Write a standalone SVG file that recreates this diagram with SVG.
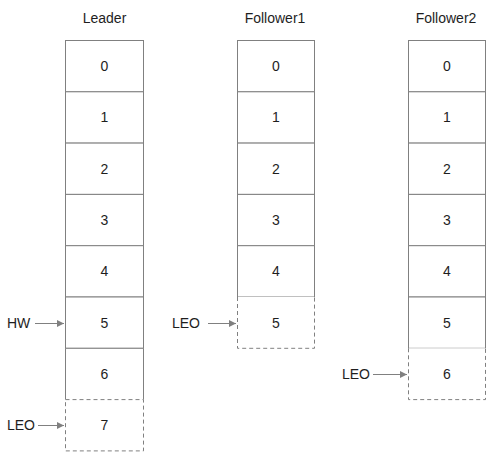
<svg xmlns="http://www.w3.org/2000/svg" width="486" height="452" viewBox="0 0 486 452">
<style>
text{font-family:"Liberation Sans",Arial,sans-serif;font-size:14px;fill:#1e1e1e}
.t{text-anchor:middle}
.c{fill:#fff;stroke:#808080;stroke-width:1}
.d{fill:#fff;stroke:#808080;stroke-width:1;stroke-dasharray:4 3}
.a{stroke:#808080;stroke-width:1;fill:none;marker-end:url(#ah)}
</style>
<defs>
<marker id="ah" viewBox="0 0 10 10" refX="10" refY="5" markerWidth="8" markerHeight="7" markerUnits="userSpaceOnUse" orient="auto">
<path d="M0,0 L10,5 L0,10 z" fill="#808080"/>
</marker>
</defs>
<g id="titles">
<text class="t" x="104.5" y="23">Leader</text>
<text class="t" x="275" y="23">Follower1</text>
<text class="t" x="446" y="23">Follower2</text>
</g>
<g id="leader">
<g id="L0"><rect class="c" x="65.5" y="40.5" width="78" height="51.3"/><text class="t" x="104.5" y="71">0</text></g>
<g id="L1"><rect class="c" x="65.5" y="91.8" width="78" height="51.3"/><text class="t" x="104.5" y="122.3">1</text></g>
<g id="L2"><rect class="c" x="65.5" y="143.1" width="78" height="51.3"/><text class="t" x="104.5" y="173.6">2</text></g>
<g id="L3"><rect class="c" x="65.5" y="194.4" width="78" height="51.3"/><text class="t" x="104.5" y="224.9">3</text></g>
<g id="L4"><rect class="c" x="65.5" y="245.7" width="78" height="51.3"/><text class="t" x="104.5" y="276.2">4</text></g>
<g id="L5"><rect class="c" x="65.5" y="297" width="78" height="51.3"/><text class="t" x="104.5" y="327.5">5</text></g>
<g id="L6"><path class="c" fill="none" d="M65.5,399.6 V348.3 H143.5 V399.6"/><text class="t" x="104.5" y="378.8">6</text></g>
<g id="L7"><rect class="d" x="65.5" y="399.6" width="78" height="51.3"/><text class="t" x="104.5" y="430.1">7</text></g>
</g>
<g id="follower1">
<g id="F1_0"><rect class="c" x="237.5" y="40.5" width="77" height="51.3"/><text class="t" x="276" y="71">0</text></g>
<g id="F1_1"><rect class="c" x="237.5" y="91.8" width="77" height="51.3"/><text class="t" x="276" y="122.3">1</text></g>
<g id="F1_2"><rect class="c" x="237.5" y="143.1" width="77" height="51.3"/><text class="t" x="276" y="173.6">2</text></g>
<g id="F1_3"><rect class="c" x="237.5" y="194.4" width="77" height="51.3"/><text class="t" x="276" y="224.9">3</text></g>
<g id="F1_4"><rect class="c" x="237.5" y="245.7" width="77" height="51.3"/><text class="t" x="276" y="276.2">4</text></g>
<g id="F1_5"><path class="d" d="M237.5,297 V348.3 H314.5 V297"/><text class="t" x="276" y="327.5">5</text></g>
</g>
<g id="follower2">
<g id="F2_0"><rect class="c" x="408.5" y="40.5" width="77" height="51.3"/><text class="t" x="447" y="71">0</text></g>
<g id="F2_1"><rect class="c" x="408.5" y="91.8" width="77" height="51.3"/><text class="t" x="447" y="122.3">1</text></g>
<g id="F2_2"><rect class="c" x="408.5" y="143.1" width="77" height="51.3"/><text class="t" x="447" y="173.6">2</text></g>
<g id="F2_3"><rect class="c" x="408.5" y="194.4" width="77" height="51.3"/><text class="t" x="447" y="224.9">3</text></g>
<g id="F2_4"><rect class="c" x="408.5" y="245.7" width="77" height="51.3"/><text class="t" x="447" y="276.2">4</text></g>
<g id="F2_5"><rect class="c" x="408.5" y="297" width="77" height="51.3"/><text class="t" x="447" y="327.5">5</text></g>
<g id="F2_6"><path class="d" d="M408.5,348.3 V399.6 H485.5 V348.3"/><text class="t" x="447" y="378.8">6</text></g>
</g>
<g id="labels">
<text x="7" y="328">HW</text>
<text x="7" y="430">LEO</text>
<text x="172" y="328">LEO</text>
<text x="342" y="379">LEO</text>
</g>
<g id="connectors">
<path class="a" d="M35,323.5 H64"/>
<path class="a" d="M38,425.5 H64"/>
<path class="a" d="M208,323.5 H236"/>
<path class="a" d="M373,374.5 H407"/>
</g>
</svg>
